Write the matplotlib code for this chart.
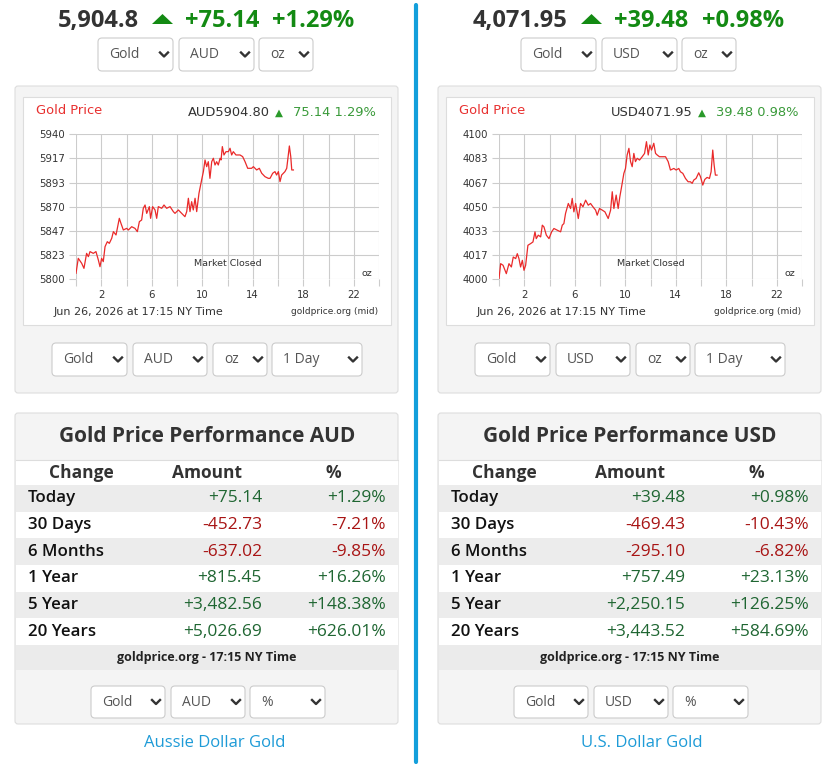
"""
Gold price widget: AUD and USD intraday charts with performance tables
"""

import numpy as np
import matplotlib.pyplot as plt
from matplotlib.patches import FancyBboxPatch, Rectangle, Polygon

plt.rcParams['font.family'] = ['Open Sans', 'DejaVu Sans']

# ---- values ----
aud_hours = [0.00, 0.18, 0.45, 0.63, 0.84, 0.98, 1.11, 1.37, 1.58, 1.77, 1.90, 2.03, 2.16, 2.30,
             2.48, 2.64, 2.83, 2.96, 3.17, 3.30, 3.43, 3.56, 3.75, 4.01, 4.15, 4.41, 4.67, 4.86,
             5.02, 5.20, 5.33, 5.47, 5.60, 5.81, 5.91, 6.07, 6.26, 6.39, 6.52, 6.79, 6.97, 7.18,
             7.45, 7.71, 7.84, 8.11, 8.37, 8.63, 8.77, 8.90, 9.03, 9.16, 9.29, 9.43, 9.56, 9.74,
             9.95, 10.09, 10.22, 10.35, 10.48, 10.61, 10.75, 10.88, 11.01, 11.14, 11.27, 11.41,
             11.49, 11.59, 11.72, 11.88, 12.07, 12.20, 12.33, 12.46, 12.67, 12.99, 13.20, 13.39,
             13.60, 13.91, 14.05, 14.31, 14.52, 14.71, 14.97, 15.23, 15.37, 15.58, 15.76, 15.89,
             16.03, 16.16, 16.29, 16.55, 16.69, 16.77, 16.90, 17.01, 17.09, 17.22]
aud_price = [5805.5, 5820.0, 5815.2, 5810.3, 5824.8, 5821.6, 5826.5, 5824.8, 5826.5, 5818.4, 5811.9,
             5820.0, 5816.8, 5831.3, 5836.1, 5834.5, 5839.4, 5845.8, 5842.6, 5850.6, 5858.7, 5853.9,
             5847.4, 5849.0, 5847.4, 5850.6, 5849.0, 5845.8, 5855.5, 5857.1, 5868.4, 5871.6, 5863.5,
             5870.0, 5858.7, 5870.0, 5866.8, 5858.7, 5870.0, 5868.4, 5871.6, 5868.4, 5870.0, 5865.2,
             5863.5, 5866.8, 5863.5, 5860.3, 5865.2, 5878.1, 5865.2, 5874.8, 5866.8, 5878.1, 5865.2,
             5882.9, 5895.8, 5903.9, 5915.2, 5908.7, 5913.5, 5897.4, 5913.5, 5916.8, 5910.3, 5913.5,
             5910.3, 5916.8, 5915.2, 5928.1, 5920.0, 5923.2, 5923.2, 5926.5, 5920.0, 5923.2, 5920.0,
             5920.0, 5918.4, 5913.5, 5907.1, 5907.1, 5908.7, 5905.5, 5907.1, 5902.3, 5899.0, 5897.4,
             5897.4, 5902.3, 5903.9, 5900.6, 5903.9, 5894.2, 5900.6, 5903.9, 5907.1, 5915.2, 5928.7,
             5918.4, 5905.5, 5905.5]

usd_hours = [0.00, 0.13, 0.32, 0.58, 0.79, 0.98, 1.13, 1.32, 1.45, 1.58, 1.71, 1.85, 1.98, 2.11,
             2.29, 2.51, 2.69, 2.85, 2.95, 3.11, 3.30, 3.43, 3.56, 3.75, 3.96, 4.17, 4.35, 4.62,
             4.88, 5.01, 5.14, 5.27, 5.49, 5.67, 5.80, 5.93, 6.07, 6.28, 6.46, 6.65, 6.86, 7.07,
             7.25, 7.44, 7.65, 7.78, 7.96, 8.18, 8.39, 8.65, 8.84, 8.97, 9.10, 9.28, 9.44, 9.57,
             9.71, 9.89, 10.02, 10.15, 10.29, 10.42, 10.55, 10.68, 10.81, 10.95, 11.13, 11.34,
             11.53, 11.68, 11.82, 11.95, 12.08, 12.26, 12.40, 12.53, 12.71, 12.92, 13.19, 13.40,
             13.58, 13.85, 14.03, 14.24, 14.37, 14.56, 14.77, 14.98, 15.16, 15.30, 15.43, 15.61,
             15.82, 15.96, 16.14, 16.30, 16.48, 16.67, 16.80, 16.93, 17.04, 17.14, 17.27]
usd_price = [4000.2, 4010.6, 4009.5, 4003.7, 4010.6, 4008.3, 4015.2, 4014.1, 4017.5, 4014.1, 4008.3,
             4012.9, 4006.0, 4009.5, 4023.3, 4024.5, 4025.6, 4032.6, 4027.9, 4030.3, 4029.1, 4037.2,
             4036.0, 4030.3, 4027.9, 4032.6, 4034.9, 4033.7, 4032.6, 4037.2, 4038.3, 4045.3, 4052.2,
             4048.7, 4055.7, 4046.4, 4052.2, 4041.8, 4052.2, 4049.9, 4054.5, 4051.0, 4052.2, 4049.9,
             4047.6, 4044.1, 4048.7, 4047.6, 4046.4, 4041.8, 4047.6, 4060.3, 4048.7, 4058.0, 4048.7,
             4056.8, 4063.7, 4073.0, 4076.4, 4085.7, 4090.3, 4081.1, 4077.6, 4086.8, 4081.1, 4083.4,
             4082.2, 4084.5, 4086.8, 4094.9, 4085.7, 4092.6, 4089.1, 4093.8, 4086.8, 4085.7, 4084.5,
             4084.5, 4084.5, 4081.1, 4075.3, 4076.4, 4075.3, 4076.4, 4074.1, 4073.0, 4069.5, 4067.2,
             4067.2, 4066.1, 4068.4, 4069.5, 4073.4, 4070.7, 4064.9, 4068.8, 4070.2, 4069.5, 4074.1,
             4089.1, 4078.8, 4071.8, 4071.8]

aud_ylim = (5800, 5940)
aud_yticklabels = ['5800', '5823', '5847', '5870', '5893', '5917', '5940']
usd_ylim = (4000, 4100)
usd_yticklabels = ['4000', '4017', '4033', '4050', '4067', '4083', '4100']
hour_labels = [2, 6, 10, 14, 18, 22]

aud_header = ['5,904.8', '+75.14', '+1.29%']
usd_header = ['4,071.95', '+39.48', '+0.98%']
aud_last, aud_change, aud_change_pct = 5904.80, 75.14, 1.29
usd_last, usd_change, usd_change_pct = 4071.95, 39.48, 0.98

periods = ['Today', '30 Days', '6 Months', '1 Year', '5 Year', '20 Years']
aud_amount = [75.14, -452.73, -637.02, 815.45, 3482.56, 5026.69]
aud_pct = [1.29, -7.21, -9.85, 16.26, 148.38, 626.01]
usd_amount = [39.48, -469.43, -295.10, 757.49, 2250.15, 3443.52]
usd_pct = [0.98, -10.43, -6.82, 23.13, 126.25, 584.69]

W, H = 832, 767
fig = plt.figure(figsize=(W / 100, H / 100), dpi=100)
fig.patch.set_facecolor('white')
bg = fig.add_axes([0, 0, 1, 1])
bg.set_xlim(0, W)
bg.set_ylim(H, 0)
bg.axis('off')

GREEN = '#138a13'
TGREEN = '#1f6632'
TRED = '#a81414'
DARK = '#333333'


def rbox(x0, y0, x1, y1, fc, ec, r=3, lw=0.8):
    bg.add_patch(FancyBboxPatch((x0, y0), x1 - x0, y1 - y0,
                                boxstyle='round,pad=0,rounding_size=%s' % r,
                                fc=fc, ec=ec, lw=lw))


def dropdown(x0, x1, y0, y1, label):
    rbox(x0, y0, x1, y1, 'white', '#cccccc', r=4)
    cy = (y0 + y1) / 2
    bg.text(x0 + 11, cy, label, fontsize=10, color='#555555', va='center', ha='left')
    cx = x1 - 9
    bg.plot([cx - 4, cx, cx + 4], [cy - 2, cy + 2, cy - 2], color='#333333', lw=1.7)


def px_axes(x0, y0, x1, y1):
    return fig.add_axes([x0 / W, 1 - y1 / H, (x1 - x0) / W, (y1 - y0) / H])


def draw_side(ox, cur, header, head_x, hours, price, ylim, ylabels,
              last, chg, chg_pct, amounts, pcts, link, link_x):
    # top quote line
    bg.text(head_x[0], 21, header[0], fontsize=17, weight='bold', color=DARK, va='center')
    tx = head_x[1]
    bg.add_patch(Polygon([[tx, 24], [tx + 21, 24], [tx + 10.5, 14]], closed=True, fc=GREEN, ec='none'))
    bg.text(head_x[2], 21, header[1], fontsize=17, weight='bold', color=GREEN, va='center')
    bg.text(head_x[3], 21, header[2], fontsize=17, weight='bold', color=GREEN, va='center')
    dropdown(98 + ox, 173 + ox, 38, 71, 'Gold')
    dropdown(179 + ox, 254 + ox, 38, 71, cur)
    dropdown(259 + ox, 313 + ox, 38, 71, 'oz')

    # chart panel
    rbox(15 + ox, 86, 398 + ox, 393, '#f4f4f4', '#dddddd')
    bg.add_patch(Rectangle((23 + ox, 97), 368, 228, fc='white', ec='#dddddd', lw=0.8))
    bg.text(36 + ox, 111, 'Gold Price', color='#e8302f', fontsize=9.4,
            family='DejaVu Sans', va='center')
    bg.text(188 + ox, 113, '%s%.2f' % (cur, last), color=DARK, fontsize=9.4,
            family='DejaVu Sans', va='center')
    bg.text(275 + ox, 113, '\u25b2', color='#2a9a2a', fontsize=7.5,
            family='DejaVu Sans', va='center')
    bg.text(376 + ox, 113, '%.2f %.2f%%' % (chg, chg_pct), color='#3a9a3a', fontsize=9.4,
            family='DejaVu Sans', va='center', ha='right')
    bg.text(54 + ox, 312, 'Jun 26, 2026 at 17:15 NY Time', color=DARK, fontsize=8,
            family='DejaVu Sans', va='center')
    bg.text(378 + ox, 312, 'goldprice.org (mid)', color=DARK, fontsize=6.5,
            family='DejaVu Sans', va='center', ha='right')

    ax = px_axes(76 + ox, 134.3, 379 + ox, 279)
    ax.plot(hours, price, color='#ea2a2a', lw=0.9)
    ax.set_xlim(0, 24)
    ax.set_ylim(*ylim)
    xt = np.arange(0, 25, 2)
    ax.set_xticks(xt)
    ax.set_xticklabels([str(h) if h in hour_labels else '' for h in xt],
                       fontfamily='DejaVu Sans')
    ax.set_yticks(np.linspace(ylim[0], ylim[1], 7))
    ax.set_yticklabels(ylabels, fontfamily='DejaVu Sans')
    ax.tick_params(length=5, color='#cccccc', labelsize=7.3, labelcolor=DARK, pad=3)
    ax.grid(True, color='#cccccc', lw=0.8)
    for s in ax.spines.values():
        s.set_visible(False)
    ax.text(0.5, 0.104, 'Market Closed', transform=ax.transAxes, ha='center', va='center',
            fontsize=6.8, family='DejaVu Sans', color=DARK)
    ax.text(0.96, 0.04, 'oz', transform=ax.transAxes, ha='center', va='center',
            fontsize=6.8, family='DejaVu Sans', color=DARK)

    dropdown(52 + ox, 127 + ox, 343, 376, 'Gold')
    dropdown(133 + ox, 207 + ox, 343, 376, cur)
    dropdown(213 + ox, 267 + ox, 343, 376, 'oz')
    dropdown(272 + ox, 362 + ox, 343, 376, '1 Day')

    # performance table
    rbox(15 + ox, 413, 398 + ox, 724, '#f4f4f4', '#dddddd')
    bg.text(207 + ox, 437, 'Gold Price Performance %s' % cur, ha='center', va='center',
            fontsize=15, weight='bold', color=DARK)
    bg.add_patch(Rectangle((15.5 + ox, 460), 382, 25, fc='white', ec='none'))
    bg.plot([15.5 + ox, 397.5 + ox], [460, 460], color='#dddddd', lw=0.8)
    for x, lab in zip([81, 207, 333], ['Change', 'Amount', '%']):
        bg.text(x + ox, 473, lab, ha='center', va='center', fontsize=12.5,
                weight='bold', color=DARK)
    rh = 26.67
    for i, name in enumerate(periods):
        y0 = 485 + i * rh
        bg.add_patch(Rectangle((15.5 + ox, y0), 382, rh,
                               fc='#ececec' if i % 2 == 0 else 'white', ec='none'))
        yc = y0 + rh / 2
        col = TGREEN if amounts[i] >= 0 else TRED
        bg.text(28 + ox, yc, name, ha='left', va='center', fontsize=12.2,
                weight='semibold', color='#111111')
        bg.text(262 + ox, yc, '{:+,.2f}'.format(amounts[i]), ha='right', va='center',
                fontsize=12.5, weight='medium', color=col)
        bg.text(386 + ox, yc, '{:+.2f}%'.format(pcts[i]), ha='right', va='center',
                fontsize=12.5, weight='medium', color=col)
    bg.add_patch(Rectangle((15.5 + ox, 645), 382, 25, fc='#ebebeb', ec='none'))
    bg.text(207 + ox, 658, 'goldprice.org - 17:15 NY Time', ha='center', va='center',
            fontsize=9, weight='bold', color='#222222')
    dropdown(91 + ox, 165 + ox, 686, 718, 'Gold')
    dropdown(171 + ox, 245 + ox, 686, 718, cur)
    dropdown(250 + ox, 325 + ox, 686, 718, '%')
    bg.text(link_x, 743, link, ha='center', va='center', fontsize=12, color='#1e9bd7')


draw_side(0, 'AUD', aud_header, [58, 152, 185, 272], aud_hours, aud_price, aud_ylim,
          aud_yticklabels, aud_last, aud_change, aud_change_pct, aud_amount, aud_pct,
          'Aussie Dollar Gold', 215)
draw_side(423, 'USD', usd_header, [473, 581, 614, 702], usd_hours, usd_price, usd_ylim,
          usd_yticklabels, usd_last, usd_change, usd_change_pct, usd_amount, usd_pct,
          'U.S. Dollar Gold', 642)

# blue divider between the two widgets
bg.plot([416, 416], [5, 762], color='#139fdb', lw=3, solid_capstyle='round')

fig.savefig('out.png', dpi=100)
